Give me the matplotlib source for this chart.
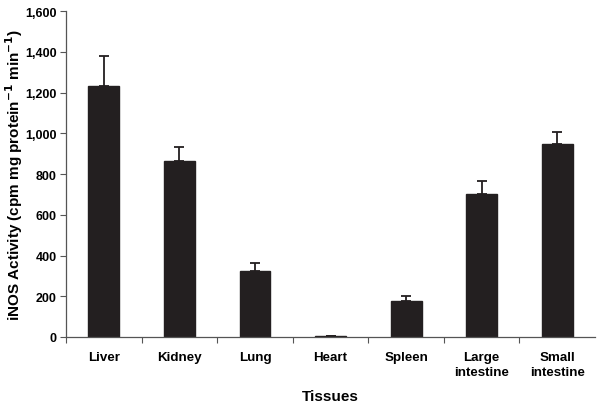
import matplotlib.pyplot as plt
import numpy as np
from matplotlib.ticker import FuncFormatter

plt.rcParams['font.family'] = ['Liberation Sans', 'DejaVu Sans']

tissues = ["Liver", "Kidney", "Lung", "Heart", "Spleen", "Large\nintestine", "Small\nintestine"]
activity = [1232, 862, 325, 3, 175, 700, 948]
sem = [150, 72, 40, 2, 25, 64, 60]

fig = plt.figure(figsize=(6.01, 4.06), dpi=100)
ax = fig.add_axes([0.11, 0.1675, 0.88, 0.8025])

x = np.arange(len(tissues))
bar_color = "#231f20"
ax.bar(x, activity, width=0.41, color=bar_color, edgecolor=bar_color)
ax.errorbar(x, activity, yerr=[np.zeros(len(sem)), sem], fmt='none',
            ecolor=bar_color, elinewidth=1.3, capsize=3.5, capthick=1.3)

ax.set_xlim(-0.5, len(tissues) - 0.5)
ax.set_ylim(0, 1600)
ax.set_yticks(np.arange(0, 1601, 200))
ax.yaxis.set_major_formatter(FuncFormatter(lambda v, p: f"{int(v):,}"))

ax.set_xticks(x)
ax.set_xticklabels(tissues, fontweight='bold', fontsize=9.6, linespacing=1.3)
ax.tick_params(axis='x', which='major', length=0, pad=10)
ax.set_xticks(np.arange(-0.5, len(tissues) - 1, 1), minor=True)
ax.tick_params(axis='x', which='minor', length=4, width=0.8, color='#555555')
ax.tick_params(axis='y', length=4, width=0.8, color='#555555', labelsize=9, pad=3)
for lab in ax.get_yticklabels():
    lab.set_fontweight('bold')

for s in ['top', 'right']:
    ax.spines[s].set_visible(False)
for s in ['left', 'bottom']:
    ax.spines[s].set_color('#555555')
    ax.spines[s].set_linewidth(0.9)

ax.set_ylabel("iNOS Activity (cpm mg protein$^{\\mathbf{-1}}$ min$^{\\mathbf{-1}}$)",
              fontweight='bold', fontsize=11, labelpad=0)
ax.set_xlabel("Tissues", fontweight='bold', fontsize=11, labelpad=8)

fig.savefig("out.png", dpi=100)
